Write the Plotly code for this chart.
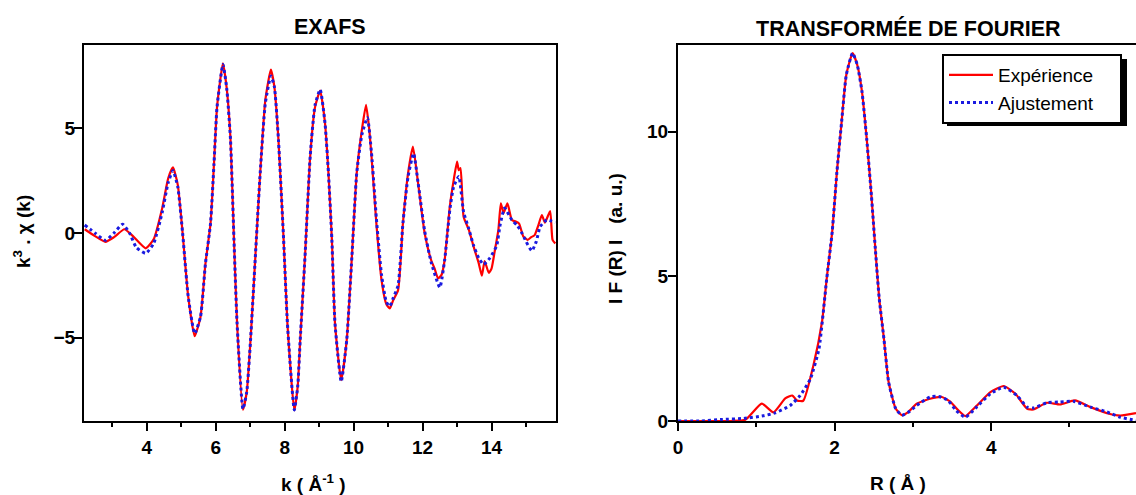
import plotly.graph_objects as go

# ---------------- EXAFS (left) ----------------
k_exp = [2.2, 2.5, 2.8, 3.05, 3.35, 3.6, 3.97, 4.2, 4.45, 4.62, 4.76, 4.9, 5.04, 5.2, 5.39,
         5.56, 5.7, 5.85, 5.95, 6.04, 6.21, 6.32, 6.43, 6.53, 6.62, 6.79, 6.9, 7.01, 7.15,
         7.29, 7.44, 7.6, 7.7, 7.82, 7.97, 8.08, 8.28, 8.38, 8.45, 8.59, 8.74, 8.88, 9.03,
         9.17, 9.27, 9.37, 9.46, 9.64, 9.8, 9.95, 10.09, 10.24, 10.36, 10.45, 10.52, 10.66,
         10.81, 10.95, 11.05, 11.15, 11.29, 11.43, 11.58, 11.72, 11.87, 12.06, 12.25, 12.35,
         12.45, 12.55, 12.64, 12.79, 12.9, 13.0, 13.05, 13.1, 13.19, 13.34, 13.48, 13.63,
         13.72, 13.8, 13.92, 14.0, 14.1, 14.2, 14.27, 14.35, 14.46, 14.59, 14.7, 14.8,
         14.92, 15.05, 15.15, 15.25, 15.36, 15.46, 15.55, 15.7, 15.77, 15.85]
chi_exp = [0.18, -0.15, -0.42, -0.2, 0.18, -0.15, -0.73, -0.3, 1.2, 2.6, 3.13, 2.3, 0.0, -3.0, -4.93,
           -4.0, -1.5, 0.46, 3.3, 6.04, 8.1, 6.9, 4.45, -0.33, -4.32, -8.44, -7.6, -5.12, -1.13,
           2.86, 6.36, 7.8, 7.0, 4.45, -0.33, -4.32, -8.47, -7.3, -5.12, -1.13, 3.65, 6.0, 6.8,
           5.25, 2.86, -0.33, -4.32, -7.03, -5.12, -1.13, 2.86, 4.93, 6.12, 5.0, 3.65, 0.46,
           -2.25, -3.4, -3.6, -3.2, -2.73, 0.46, 2.86, 4.13, 2.38, 0.0, -1.3, -1.7,
           -2.17, -2.0, -1.3, 1.26, 2.5, 3.41, 3.0, 3.1, 0.78, 0.16, -0.65, -1.45,
           -2.04, -1.34, -1.9, -1.7, -0.8, 0.16, 1.42, 0.95, 1.42, 0.62, 0.55, 0.45,
           -0.16, -0.33, -0.2, -0.1, 0.38, 0.86, 0.5, 1.05, -0.33, -0.5]

k_fit = [2.2, 2.5, 2.8, 3.05, 3.3, 3.5, 3.7, 3.97, 4.2, 4.45, 4.62, 4.76, 4.9, 5.04, 5.2, 5.39,
         5.56, 5.7, 5.85, 5.95, 6.04, 6.21, 6.32, 6.43, 6.53, 6.62, 6.79, 6.9, 7.01, 7.15,
         7.29, 7.44, 7.6, 7.7, 7.82, 7.97, 8.08, 8.28, 8.38, 8.45, 8.59, 8.74, 8.88, 9.03,
         9.17, 9.27, 9.37, 9.46, 9.64, 9.8, 9.95, 10.09, 10.24, 10.4, 10.52, 10.66,
         10.81, 10.95, 11.05, 11.15, 11.29, 11.43, 11.58, 11.74, 11.87, 12.06, 12.25,
         12.5, 12.64, 12.79, 12.9, 13.05, 13.19, 13.34, 13.48, 13.63, 13.77, 13.95,
         14.15, 14.25, 14.38, 14.59, 14.75, 14.88, 15.0, 15.17, 15.3, 15.41, 15.6, 15.85]
chi_fit = [0.38, 0.0, -0.35, 0.0, 0.42, 0.0, -0.7, -0.97, -0.5, 1.0, 2.4, 2.98, 2.2, 0.0, -3.0, -4.8,
           -4.0, -1.5, 0.46, 3.3, 6.04, 8.05, 6.9, 4.45, -0.33, -4.32, -8.4, -7.6, -5.12, -1.13,
           2.86, 6.2, 7.5, 7.0, 4.45, -0.33, -4.32, -8.45, -7.3, -5.12, -1.13, 3.65, 6.1, 6.85,
           5.25, 2.86, -0.33, -4.32, -7.1, -5.12, -1.13, 2.86, 4.7, 5.5, 3.8, 0.7,
           -2.0, -3.3, -3.5, -3.1, -2.5, 0.46, 2.7, 3.8, 2.4, 0.1, -1.4,
           -2.6, -1.3, 1.1, 2.2, 2.7, 1.0, 0.2, -0.6, -1.2, -1.5, -1.2,
           -0.6, 0.4, 1.19, 0.62, 0.35, 0.0, -0.4, -0.85, -0.4, 0.3, 0.62, 0.5]

# ---------------- Fourier transform (right) ----------------
r_exp = [0.0, 0.3, 0.5, 0.67, 0.86, 1.07, 1.22, 1.37, 1.46, 1.52, 1.60, 1.73, 1.84, 1.90, 1.97,
         2.03, 2.09, 2.15, 2.23, 2.29, 2.35, 2.41, 2.47, 2.52, 2.57, 2.63, 2.69, 2.78, 2.86,
         2.94, 3.05, 3.22, 3.37, 3.48, 3.58, 3.67, 3.82, 3.99, 4.16, 4.31, 4.46, 4.54, 4.71,
         4.88, 5.07, 5.27, 5.48, 5.65, 5.85]
ft_exp = [0.0, 0.0, 0.0, 0.0, 0.04, 0.6, 0.3, 0.78, 0.88, 0.71, 0.7, 1.93, 3.43, 4.93, 6.55,
          8.62, 10.35, 11.97, 12.72, 12.31, 11.39, 9.77, 7.81, 5.97, 4.24, 2.85, 1.35, 0.43, 0.2,
          0.31, 0.6, 0.77, 0.83, 0.66, 0.37, 0.17, 0.54, 1.0, 1.21, 0.94, 0.42, 0.40, 0.63,
          0.57, 0.71, 0.48, 0.27, 0.19, 0.27]

r_fit = [0.0, 0.3, 0.54, 0.84, 1.09, 1.24, 1.43, 1.56, 1.69, 1.80, 1.90, 1.97,
         2.03, 2.09, 2.15, 2.23, 2.29, 2.35, 2.41, 2.47, 2.52, 2.57, 2.63, 2.69, 2.78, 2.86,
         2.94, 3.05, 3.22, 3.33, 3.45, 3.55, 3.67, 3.82, 3.99, 4.16, 4.33, 4.46, 4.54, 4.71,
         4.88, 5.05, 5.27, 5.48, 5.65, 5.85]
ft_fit = [0.0, 0.0, 0.05, 0.09, 0.18, 0.28, 0.53, 0.88, 1.45, 2.49, 4.93, 6.55,
          8.62, 10.35, 11.97, 12.72, 12.31, 11.39, 9.77, 7.81, 5.97, 4.24, 2.85, 1.35, 0.43, 0.2,
          0.3, 0.54, 0.83, 0.85, 0.71, 0.37, 0.13, 0.5, 0.94, 1.17, 0.88, 0.48, 0.45, 0.63,
          0.66, 0.68, 0.48, 0.31, 0.13, 0.02]

# tick labels
exafs_xticks = [4, 6, 8, 10, 12, 14]
exafs_yticks = [-5, 0, 5]
ft_xticks = [0, 2, 4]
ft_yticks = [0, 5, 10]

RED = "#ff0000"
BLUE = "#1a1ae0"
FONT = "Liberation Sans, Arial, sans-serif"
NB = "\u00a0"

fig = go.Figure()
fig.add_trace(go.Scatter(x=k_exp, y=chi_exp, mode="lines", line=dict(color=RED, width=2.2, shape="spline", smoothing=0.5),
                         showlegend=False, xaxis="x", yaxis="y"))
fig.add_trace(go.Scatter(x=k_fit, y=chi_fit, mode="lines", line=dict(color=BLUE, width=3, dash="dot", shape="spline", smoothing=0.5),
                         showlegend=False, xaxis="x", yaxis="y"))
fig.add_trace(go.Scatter(x=r_exp, y=ft_exp, mode="lines", name="Expérience" + NB * 4,
                         line=dict(color=RED, width=2.2, shape="spline", smoothing=0.5), xaxis="x2", yaxis="y2"))
fig.add_trace(go.Scatter(x=r_fit, y=ft_fit, mode="lines", name="Ajustement" + NB * 4,
                         line=dict(color=BLUE, width=3, dash="dot", shape="spline", smoothing=0.5), xaxis="x2", yaxis="y2"))

W, H = 1136, 495
def px(x):
    return x / W
def py(y):
    return (H - y) / H

tickfont = dict(family=FONT, size=19, color="black", weight="bold")
axis_common = dict(showgrid=False, zeroline=False, showline=True, linecolor="black", linewidth=2,
                   ticks="outside", tickcolor="black", tickwidth=1.5, ticklen=8, tickfont=tickfont)
minor = dict(dtick=1, tick0=0, ticks="outside", ticklen=4, tickcolor="black", tickwidth=1.5)

fig.update_layout(
    width=W, height=H,
    margin=dict(l=0, r=0, t=0, b=0),
    paper_bgcolor="white", plot_bgcolor="white",
    template="none",
    xaxis=dict(domain=[px(84), px(556)], range=[2.18, 15.87], tickvals=exafs_xticks, mirror=True,
               minor=minor, anchor="y", **axis_common),
    yaxis=dict(domain=[py(421), py(45)], range=[-8.98, 8.98], tickvals=exafs_yticks, mirror=True,
               anchor="x", ticklabelstandoff=-5, **axis_common),
    xaxis2=dict(domain=[px(678), 1.0], range=[0, 5.85], tickvals=ft_xticks, mirror=True,
                minor=minor, anchor="y2", **axis_common),
    yaxis2=dict(domain=[py(421), py(45)], range=[0, 13.0], tickvals=ft_yticks, mirror=False,
                anchor="x2", ticklabelstandoff=-4, **axis_common),
    legend=dict(x=px(942), y=py(54), xanchor="left", yanchor="top",
                bgcolor="white", bordercolor="black", borderwidth=2, itemwidth=44,
                font=dict(family=FONT, size=19, color="black")),
    showlegend=True,
)

# legend shadow
fig.add_shape(type="rect", xref="paper", yref="paper", x0=px(947), x1=px(1127), y0=py(126), y1=py(59),
              fillcolor="black", line=dict(width=0), layer="above")

ann_font = dict(family=FONT, size=19, color="black", weight="bold")
title_font = dict(family=FONT, size=21.5, color="black", weight="bold")
annots = [
    dict(text="EXAFS", x=px(330), y=py(27), font=title_font),
    dict(text="TRANSFORMÉE DE FOURIER", x=px(908), y=py(28), font=title_font),
    dict(text="k ( Å<sup>-1</sup> )", x=px(313), y=py(483), font=ann_font),
    dict(text="R ( Å )", x=px(898), y=py(483), font=ann_font),
    dict(text="k<sup>3</sup> . χ (k)", x=px(22), y=py(232), textangle=-90, font=ann_font),
    dict(text="I F (R) I" + NB * 3 + "(a. u.)", x=px(615), y=py(239), textangle=-90, font=ann_font),
]
for a in annots:
    fig.add_annotation(xref="paper", yref="paper", showarrow=False,
                       xanchor="center", yanchor="middle", **a)

fig.write_html("out.html", config={"displayModeBar": False},
               post_script="document.body.style.margin='0px';document.body.style.overflow='hidden';")
